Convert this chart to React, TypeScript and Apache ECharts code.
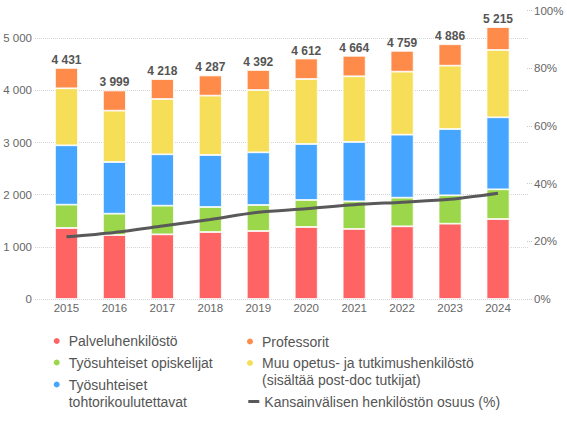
import React, { useEffect, useRef } from "react";
import * as echarts from "echarts";

const years = ["2015", "2016", "2017", "2018", "2019", "2020", "2021", "2022", "2023", "2024"];
const palvelu = [1362, 1227, 1240, 1285, 1304, 1381, 1343, 1394, 1444, 1534];
const opiskelijat = [447, 409, 550, 479, 499, 518, 531, 549, 545, 570];
const tohtori = [1139, 991, 985, 998, 1010, 1074, 1137, 1208, 1271, 1381];
const muu = [1093, 985, 1061, 1138, 1195, 1246, 1260, 1209, 1215, 1291];
const professorit = [390, 387, 382, 387, 384, 393, 393, 399, 411, 439];
const totals = [4431, 3999, 4218, 4287, 4392, 4612, 4664, 4759, 4886, 5215];
const kansainvalinen = [21.6, 23.1, 25.3, 27.6, 30.1, 31.3, 32.7, 33.6, 34.6, 36.7];

const names = {
  palvelu: "Palveluhenkilöstö",
  opiskelijat: "Työsuhteiset opiskelijat",
  tohtori: "Työsuhteiset tohtorikoulutettavat",
  professorit: "Professorit",
  muu: "Muu opetus- ja tutkimushenkilöstö (sisältää post-doc tutkijat)",
  line: "Kansainvälisen henkilöstön osuus (%)",
};

const colors = {
  palvelu: "#FF6464",
  opiskelijat: "#9CD74B",
  tohtori: "#45A5FF",
  muu: "#F7DE59",
  professorit: "#FF8B4B",
  line: "#595959",
};

const FONT = "'Liberation Sans', Arial, sans-serif";

const fmt = (v: number) => String(Math.round(v)).replace(/\B(?=(\d{3})+(?!\d))/g, " ");

const legendLabels: Record<string, string> = {
  [names.tohtori]: "\nTyösuhteiset\ntohtorikoulutettavat",
  [names.muu]: "\nMuu opetus- ja tutkimushenkilöstö\n(sisältää post-doc tutkijat)",
};

function makeLegend(name: string, left: number, top: number, icon: string, w: number, h: number) {
  return {
    data: [name],
    left,
    top,
    padding: 0,
    icon,
    itemWidth: w,
    itemHeight: h,
    selectedMode: false,
    formatter: (n: string) => legendLabels[n] || n,
    textStyle: { fontSize: 14, color: "#555", fontFamily: FONT, lineHeight: 17 },
  };
}

export default function App() {
  const ref = useRef<HTMLDivElement>(null);
  useEffect(() => {
    if (!ref.current) return;
    const chart = echarts.init(ref.current, undefined, { renderer: "svg" });
    const barBase = {
      type: "bar",
      stack: "total",
      xAxisIndex: 1,
      yAxisIndex: 1,
      barWidth: 23,
      itemStyle: { borderColor: "#fff", borderWidth: 0.8 },
    };
    chart.setOption({
      animation: false,
      textStyle: { fontFamily: FONT },
      grid: [
        { left: 35, right: 39, top: 38.3, bottom: 131 },
        { left: 42.5, right: 45, top: 10.7, bottom: 131 },
      ],
      xAxis: [
        { type: "value", gridIndex: 0, min: 0, max: 1, show: false },
        {
          type: "category",
          gridIndex: 1,
          data: years,
          axisLine: { show: false },
          axisTick: { show: false },
          axisLabel: { fontSize: 11.5, color: "#666", margin: 3, fontFamily: FONT },
        },
      ],
      yAxis: [
        {
          type: "value",
          gridIndex: 0,
          min: 0,
          max: 5000,
          interval: 1000,
          axisLine: { show: false },
          axisTick: { show: false },
          splitLine: { show: true, lineStyle: { color: "#d4d4d4", type: "dotted", width: 1 } },
          axisLabel: { fontSize: 11.5, color: "#666", margin: 3, formatter: (v: number) => fmt(v), fontFamily: FONT },
        },
        {
          type: "value",
          gridIndex: 1,
          min: 0,
          max: 5529,
          show: false,
          splitLine: { show: false },
        },
        {
          type: "value",
          gridIndex: 1,
          position: "right",
          offset: 5,
          min: 0,
          max: 100,
          interval: 20,
          axisLine: { show: false },
          axisTick: { show: true, length: 5, lineStyle: { color: "#c8c8c8", type: "dotted" } },
          splitLine: { show: false },
          axisLabel: { fontSize: 11.5, color: "#666", margin: 7, formatter: "{value}%", fontFamily: FONT },
        },
      ],
      legend: [
        makeLegend(names.palvelu, 51.7, 332.5, "circle", 14, 8),
        makeLegend(names.opiskelijat, 51.7, 354, "circle", 14, 8),
        makeLegend(names.tohtori, 51.7, 359, "circle", 14, 8),
        makeLegend(names.professorit, 245, 333, "circle", 14, 8),
        makeLegend(names.muu, 245, 337.5, "circle", 14, 8),
        makeLegend(names.line, 248.3, 393, "rect", 11, 3),
      ],
      series: [
        { ...barBase, name: names.palvelu, data: palvelu, itemStyle: { ...barBase.itemStyle, color: colors.palvelu } },
        { ...barBase, name: names.opiskelijat, data: opiskelijat, itemStyle: { ...barBase.itemStyle, color: colors.opiskelijat } },
        { ...barBase, name: names.tohtori, data: tohtori, itemStyle: { ...barBase.itemStyle, color: colors.tohtori } },
        { ...barBase, name: names.muu, data: muu, itemStyle: { ...barBase.itemStyle, color: colors.muu } },
        {
          ...barBase,
          name: names.professorit,
          data: professorit,
          itemStyle: { ...barBase.itemStyle, color: colors.professorit },
          label: {
            show: true,
            position: "top",
            distance: 2,
            formatter: (p: any) => fmt(totals[p.dataIndex]),
            fontSize: 12,
            fontWeight: "bold",
            color: "#555",
            fontFamily: FONT,
          },
        },
        {
          type: "line",
          name: names.line,
          xAxisIndex: 1,
          yAxisIndex: 2,
          data: kansainvalinen,
          smooth: 0.3,
          showSymbol: false,
          symbol: "none",
          color: colors.line,
          lineStyle: { width: 3, color: colors.line },
          z: 5,
        },
      ],
    });
    return () => chart.dispose();
  }, []);
  return (
    <div
      ref={ref}
      style={{ position: "absolute", left: 0, top: 0, width: 567, height: 430, background: "#fff" }}
    />
  );
}
